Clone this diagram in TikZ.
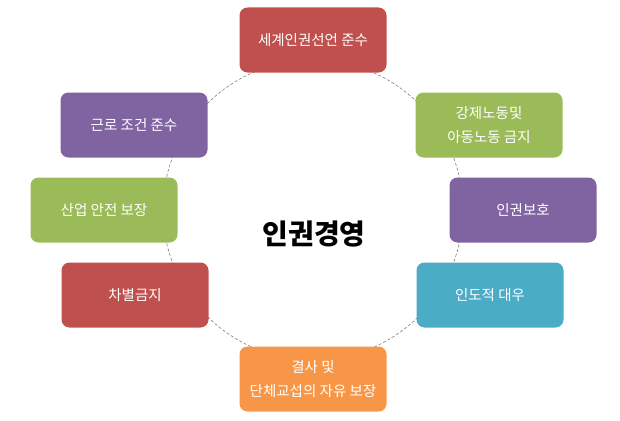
\documentclass[tikz,border=0pt]{standalone}
\usepackage{fontspec}
\setmainfont{Noto Sans CJK KR}
\usepackage{tikz}

\definecolor{cred}{HTML}{C0504D}
\definecolor{cgreen}{HTML}{9BBB59}
\definecolor{cpurple}{HTML}{8064A2}
\definecolor{ccyan}{HTML}{4BACC6}
\definecolor{corange}{HTML}{F79646}

\begin{document}
\begin{tikzpicture}[x=1pt,y=-1pt,
        box/.style={rectangle, rounded corners=8pt, text=white,
                        minimum width=147pt, minimum height=65pt,
                        inner sep=0pt, align=center,
                        font=\fontsize{14.5}{24}\selectfont}]
    \useasboundingbox (0,0) rectangle (620,420);
    \coordinate (mid) at (313,210);
    \draw[gray, dash pattern=on 3pt off 2pt, line width=0.6pt] (mid) circle (150pt);
    \node[box, fill=cred] (decl) at (313,40) {세계인권선언 준수};
    \node[box, fill=cgreen] (labor) at (489,125) {강제노동및\\아동노동 금지};
    \node[box, fill=cpurple] (protect) at (523,210) {인권보호};
    \node[box, fill=ccyan] (humane) at (490,295) {인도적 대우};
    \node[box, fill=corange] (assoc) at (313,379) {결사 및\\단체교섭의 자유 보장};
    \node[box, fill=cred] (nodisc) at (135,295) {차별금지};
    \node[box, fill=cgreen] (safety) at (104,210) {산업 안전 보장};
    \node[box, fill=cpurple] (terms) at (134,125) {근로 조건 준수};
    \node[font=\fontsize{28}{30}\selectfont\bfseries] (title) at (314,234) {인권경영};
\end{tikzpicture}
\end{document}
